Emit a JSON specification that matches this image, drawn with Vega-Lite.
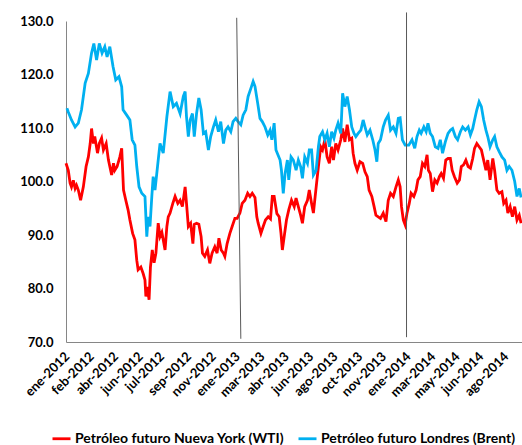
{
  "$schema": "https://vega.github.io/schema/vega-lite/v6.json",
  "width": 456,
  "height": 321,
  "autosize": "none",
  "padding": {"left": 66, "top": 21, "right": 0, "bottom": 103},
  "background": "white",
  "config": {"view": {"stroke": null}, "font": "Lato"},
  "title": {"text": "(Precio en dólares por barril)", "anchor": "start", "frame": "group", "dx": -48, "offset": 10, "baseline": "alphabetic", "font": "Lato", "fontSize": 15, "fontWeight": "bold", "color": "black"},
  "layer": [
    {
      "data": {
        "format": {"parse": {"fecha": "date:'%Y-%m-%d'"}},
        "values": [
          {"fecha": "2012-01-03", "serie": "WTI", "precio": 103.4},
          {"fecha": "2012-01-08", "serie": "WTI", "precio": 102.1},
          {"fecha": "2012-01-12", "serie": "WTI", "precio": 99.7},
          {"fecha": "2012-01-15", "serie": "WTI", "precio": 99.0},
          {"fecha": "2012-01-19", "serie": "WTI", "precio": 100.2},
          {"fecha": "2012-01-23", "serie": "WTI", "precio": 98.7},
          {"fecha": "2012-01-26", "serie": "WTI", "precio": 99.3},
          {"fecha": "2012-01-30", "serie": "WTI", "precio": 98.4},
          {"fecha": "2012-02-04", "serie": "WTI", "precio": 96.5},
          {"fecha": "2012-02-10", "serie": "WTI", "precio": 99.0},
          {"fecha": "2012-02-16", "serie": "WTI", "precio": 102.8},
          {"fecha": "2012-02-21", "serie": "WTI", "precio": 104.6},
          {"fecha": "2012-02-25", "serie": "WTI", "precio": 107.1},
          {"fecha": "2012-02-28", "serie": "WTI", "precio": 109.9},
          {"fecha": "2012-03-03", "serie": "WTI", "precio": 107.1},
          {"fecha": "2012-03-06", "serie": "WTI", "precio": 108.4},
          {"fecha": "2012-03-12", "serie": "WTI", "precio": 105.3},
          {"fecha": "2012-03-16", "serie": "WTI", "precio": 107.1},
          {"fecha": "2012-03-21", "serie": "WTI", "precio": 108.1},
          {"fecha": "2012-03-25", "serie": "WTI", "precio": 105.9},
          {"fecha": "2012-03-31", "serie": "WTI", "precio": 107.1},
          {"fecha": "2012-04-05", "serie": "WTI", "precio": 104.0},
          {"fecha": "2012-04-08", "serie": "WTI", "precio": 102.8},
          {"fecha": "2012-04-12", "serie": "WTI", "precio": 101.2},
          {"fecha": "2012-04-16", "serie": "WTI", "precio": 103.4},
          {"fecha": "2012-04-19", "serie": "WTI", "precio": 102.1},
          {"fecha": "2012-04-24", "serie": "WTI", "precio": 102.8},
          {"fecha": "2012-04-30", "serie": "WTI", "precio": 104.6},
          {"fecha": "2012-05-04", "serie": "WTI", "precio": 106.2},
          {"fecha": "2012-05-08", "serie": "WTI", "precio": 98.4},
          {"fecha": "2012-05-13", "serie": "WTI", "precio": 96.5},
          {"fecha": "2012-05-18", "serie": "WTI", "precio": 94.7},
          {"fecha": "2012-05-22", "serie": "WTI", "precio": 92.8},
          {"fecha": "2012-05-28", "serie": "WTI", "precio": 90.3},
          {"fecha": "2012-06-02", "serie": "WTI", "precio": 89.1},
          {"fecha": "2012-06-06", "serie": "WTI", "precio": 85.3},
          {"fecha": "2012-06-09", "serie": "WTI", "precio": 83.5},
          {"fecha": "2012-06-15", "serie": "WTI", "precio": 84.0},
          {"fecha": "2012-06-20", "serie": "WTI", "precio": 82.8},
          {"fecha": "2012-06-24", "serie": "WTI", "precio": 81.6},
          {"fecha": "2012-06-26", "serie": "WTI", "precio": 78.5},
          {"fecha": "2012-06-29", "serie": "WTI", "precio": 80.3},
          {"fecha": "2012-07-03", "serie": "WTI", "precio": 77.9},
          {"fecha": "2012-07-06", "serie": "WTI", "precio": 84.0},
          {"fecha": "2012-07-10", "serie": "WTI", "precio": 87.2},
          {"fecha": "2012-07-14", "serie": "WTI", "precio": 84.8},
          {"fecha": "2012-07-18", "serie": "WTI", "precio": 86.6},
          {"fecha": "2012-07-23", "serie": "WTI", "precio": 92.2},
          {"fecha": "2012-07-27", "serie": "WTI", "precio": 89.7},
          {"fecha": "2012-07-31", "serie": "WTI", "precio": 90.5},
          {"fecha": "2012-08-03", "serie": "WTI", "precio": 89.1},
          {"fecha": "2012-08-07", "serie": "WTI", "precio": 87.2},
          {"fecha": "2012-08-11", "serie": "WTI", "precio": 91.6},
          {"fecha": "2012-08-14", "serie": "WTI", "precio": 93.4},
          {"fecha": "2012-08-18", "serie": "WTI", "precio": 94.1},
          {"fecha": "2012-08-24", "serie": "WTI", "precio": 95.9},
          {"fecha": "2012-08-29", "serie": "WTI", "precio": 97.2},
          {"fecha": "2012-09-04", "serie": "WTI", "precio": 95.9},
          {"fecha": "2012-09-09", "serie": "WTI", "precio": 96.5},
          {"fecha": "2012-09-14", "serie": "WTI", "precio": 95.3},
          {"fecha": "2012-09-20", "serie": "WTI", "precio": 99.0},
          {"fecha": "2012-09-23", "serie": "WTI", "precio": 95.9},
          {"fecha": "2012-09-27", "serie": "WTI", "precio": 91.6},
          {"fecha": "2012-10-02", "serie": "WTI", "precio": 92.2},
          {"fecha": "2012-10-07", "serie": "WTI", "precio": 88.4},
          {"fecha": "2012-10-10", "serie": "WTI", "precio": 92.0},
          {"fecha": "2012-10-15", "serie": "WTI", "precio": 92.2},
          {"fecha": "2012-10-20", "serie": "WTI", "precio": 92.0},
          {"fecha": "2012-10-25", "serie": "WTI", "precio": 89.7},
          {"fecha": "2012-10-28", "serie": "WTI", "precio": 86.6},
          {"fecha": "2012-11-02", "serie": "WTI", "precio": 86.0},
          {"fecha": "2012-11-08", "serie": "WTI", "precio": 87.2},
          {"fecha": "2012-11-13", "serie": "WTI", "precio": 84.7},
          {"fecha": "2012-11-18", "serie": "WTI", "precio": 86.6},
          {"fecha": "2012-11-24", "serie": "WTI", "precio": 87.8},
          {"fecha": "2012-11-29", "serie": "WTI", "precio": 86.6},
          {"fecha": "2012-12-03", "serie": "WTI", "precio": 89.4},
          {"fecha": "2012-12-08", "serie": "WTI", "precio": 87.2},
          {"fecha": "2012-12-13", "serie": "WTI", "precio": 86.6},
          {"fecha": "2012-12-16", "serie": "WTI", "precio": 86.0},
          {"fecha": "2012-12-21", "serie": "WTI", "precio": 88.4},
          {"fecha": "2012-12-27", "serie": "WTI", "precio": 90.3},
          {"fecha": "2013-01-01", "serie": "WTI", "precio": 91.6},
          {"fecha": "2013-01-07", "serie": "WTI", "precio": 93.1},
          {"fecha": "2013-01-12", "serie": "WTI", "precio": 93.1},
          {"fecha": "2013-01-18", "serie": "WTI", "precio": 94.1},
          {"fecha": "2013-01-23", "serie": "WTI", "precio": 95.9},
          {"fecha": "2013-01-29", "serie": "WTI", "precio": 96.5},
          {"fecha": "2013-02-04", "serie": "WTI", "precio": 97.8},
          {"fecha": "2013-02-09", "serie": "WTI", "precio": 97.2},
          {"fecha": "2013-02-14", "serie": "WTI", "precio": 97.8},
          {"fecha": "2013-02-20", "serie": "WTI", "precio": 97.0},
          {"fecha": "2013-02-24", "serie": "WTI", "precio": 93.4},
          {"fecha": "2013-02-27", "serie": "WTI", "precio": 92.2},
          {"fecha": "2013-03-05", "serie": "WTI", "precio": 90.3},
          {"fecha": "2013-03-10", "serie": "WTI", "precio": 91.6},
          {"fecha": "2013-03-15", "serie": "WTI", "precio": 92.8},
          {"fecha": "2013-03-21", "serie": "WTI", "precio": 93.4},
          {"fecha": "2013-03-26", "serie": "WTI", "precio": 93.0},
          {"fecha": "2013-03-30", "serie": "WTI", "precio": 97.2},
          {"fecha": "2013-04-03", "serie": "WTI", "precio": 97.2},
          {"fecha": "2013-04-09", "serie": "WTI", "precio": 94.0},
          {"fecha": "2013-04-14", "serie": "WTI", "precio": 93.4},
          {"fecha": "2013-04-18", "serie": "WTI", "precio": 90.3},
          {"fecha": "2013-04-21", "serie": "WTI", "precio": 87.2},
          {"fecha": "2013-04-25", "serie": "WTI", "precio": 89.7},
          {"fecha": "2013-04-30", "serie": "WTI", "precio": 92.8},
          {"fecha": "2013-05-05", "serie": "WTI", "precio": 94.7},
          {"fecha": "2013-05-11", "serie": "WTI", "precio": 96.5},
          {"fecha": "2013-05-17", "serie": "WTI", "precio": 95.3},
          {"fecha": "2013-05-21", "serie": "WTI", "precio": 96.9},
          {"fecha": "2013-05-26", "serie": "WTI", "precio": 95.3},
          {"fecha": "2013-05-31", "serie": "WTI", "precio": 93.7},
          {"fecha": "2013-06-04", "serie": "WTI", "precio": 92.2},
          {"fecha": "2013-06-09", "serie": "WTI", "precio": 95.3},
          {"fecha": "2013-06-15", "serie": "WTI", "precio": 96.5},
          {"fecha": "2013-06-19", "serie": "WTI", "precio": 98.4},
          {"fecha": "2013-06-24", "serie": "WTI", "precio": 95.9},
          {"fecha": "2013-06-28", "serie": "WTI", "precio": 94.1},
          {"fecha": "2013-07-01", "serie": "WTI", "precio": 96.5},
          {"fecha": "2013-07-05", "serie": "WTI", "precio": 99.7},
          {"fecha": "2013-07-09", "serie": "WTI", "precio": 102.8},
          {"fecha": "2013-07-14", "serie": "WTI", "precio": 106.5},
          {"fecha": "2013-07-18", "serie": "WTI", "precio": 105.9},
          {"fecha": "2013-07-23", "serie": "WTI", "precio": 107.8},
          {"fecha": "2013-07-28", "serie": "WTI", "precio": 104.6},
          {"fecha": "2013-08-02", "serie": "WTI", "precio": 103.4},
          {"fecha": "2013-08-07", "serie": "WTI", "precio": 106.5},
          {"fecha": "2013-08-11", "serie": "WTI", "precio": 104.0},
          {"fecha": "2013-08-16", "serie": "WTI", "precio": 107.1},
          {"fecha": "2013-08-21", "serie": "WTI", "precio": 105.9},
          {"fecha": "2013-08-27", "serie": "WTI", "precio": 107.8},
          {"fecha": "2013-08-31", "serie": "WTI", "precio": 109.9},
          {"fecha": "2013-09-05", "serie": "WTI", "precio": 107.4},
          {"fecha": "2013-09-10", "serie": "WTI", "precio": 110.6},
          {"fecha": "2013-09-15", "serie": "WTI", "precio": 107.8},
          {"fecha": "2013-09-20", "serie": "WTI", "precio": 108.1},
          {"fecha": "2013-09-23", "serie": "WTI", "precio": 105.3},
          {"fecha": "2013-09-27", "serie": "WTI", "precio": 103.4},
          {"fecha": "2013-10-02", "serie": "WTI", "precio": 102.1},
          {"fecha": "2013-10-08", "serie": "WTI", "precio": 103.7},
          {"fecha": "2013-10-14", "serie": "WTI", "precio": 103.4},
          {"fecha": "2013-10-19", "serie": "WTI", "precio": 101.8},
          {"fecha": "2013-10-24", "serie": "WTI", "precio": 100.9},
          {"fecha": "2013-10-28", "serie": "WTI", "precio": 98.4},
          {"fecha": "2013-11-03", "serie": "WTI", "precio": 97.2},
          {"fecha": "2013-11-08", "serie": "WTI", "precio": 95.3},
          {"fecha": "2013-11-12", "serie": "WTI", "precio": 93.7},
          {"fecha": "2013-11-17", "serie": "WTI", "precio": 93.4},
          {"fecha": "2013-11-22", "serie": "WTI", "precio": 93.1},
          {"fecha": "2013-11-28", "serie": "WTI", "precio": 94.1},
          {"fecha": "2013-12-04", "serie": "WTI", "precio": 92.5},
          {"fecha": "2013-12-09", "serie": "WTI", "precio": 96.5},
          {"fecha": "2013-12-14", "serie": "WTI", "precio": 97.8},
          {"fecha": "2013-12-20", "serie": "WTI", "precio": 97.2},
          {"fecha": "2013-12-26", "serie": "WTI", "precio": 99.0},
          {"fecha": "2013-12-31", "serie": "WTI", "precio": 100.3},
          {"fecha": "2014-01-04", "serie": "WTI", "precio": 99.0},
          {"fecha": "2014-01-07", "serie": "WTI", "precio": 95.3},
          {"fecha": "2014-01-11", "serie": "WTI", "precio": 92.8},
          {"fecha": "2014-01-15", "serie": "WTI", "precio": 91.9},
          {"fecha": "2014-01-19", "serie": "WTI", "precio": 94.1},
          {"fecha": "2014-01-24", "serie": "WTI", "precio": 95.9},
          {"fecha": "2014-01-28", "serie": "WTI", "precio": 97.8},
          {"fecha": "2014-02-03", "serie": "WTI", "precio": 97.2},
          {"fecha": "2014-02-08", "serie": "WTI", "precio": 98.4},
          {"fecha": "2014-02-12", "serie": "WTI", "precio": 100.3},
          {"fecha": "2014-02-17", "serie": "WTI", "precio": 100.9},
          {"fecha": "2014-02-22", "serie": "WTI", "precio": 103.4},
          {"fecha": "2014-02-27", "serie": "WTI", "precio": 102.8},
          {"fecha": "2014-03-04", "serie": "WTI", "precio": 105.0},
          {"fecha": "2014-03-07", "serie": "WTI", "precio": 102.1},
          {"fecha": "2014-03-11", "serie": "WTI", "precio": 101.5},
          {"fecha": "2014-03-16", "serie": "WTI", "precio": 98.1},
          {"fecha": "2014-03-21", "serie": "WTI", "precio": 100.3},
          {"fecha": "2014-03-26", "serie": "WTI", "precio": 99.7},
          {"fecha": "2014-03-31", "serie": "WTI", "precio": 100.9},
          {"fecha": "2014-04-04", "serie": "WTI", "precio": 101.5},
          {"fecha": "2014-04-09", "serie": "WTI", "precio": 100.6},
          {"fecha": "2014-04-14", "serie": "WTI", "precio": 104.0},
          {"fecha": "2014-04-19", "serie": "WTI", "precio": 104.3},
          {"fecha": "2014-04-24", "serie": "WTI", "precio": 104.3},
          {"fecha": "2014-04-28", "serie": "WTI", "precio": 102.1},
          {"fecha": "2014-05-03", "serie": "WTI", "precio": 100.9},
          {"fecha": "2014-05-09", "serie": "WTI", "precio": 99.7},
          {"fecha": "2014-05-14", "serie": "WTI", "precio": 100.3},
          {"fecha": "2014-05-18", "serie": "WTI", "precio": 102.8},
          {"fecha": "2014-05-23", "serie": "WTI", "precio": 103.1},
          {"fecha": "2014-05-28", "serie": "WTI", "precio": 104.0},
          {"fecha": "2014-06-02", "serie": "WTI", "precio": 102.8},
          {"fecha": "2014-06-07", "serie": "WTI", "precio": 102.5},
          {"fecha": "2014-06-12", "serie": "WTI", "precio": 104.3},
          {"fecha": "2014-06-16", "serie": "WTI", "precio": 106.2},
          {"fecha": "2014-06-21", "serie": "WTI", "precio": 107.1},
          {"fecha": "2014-06-26", "serie": "WTI", "precio": 106.5},
          {"fecha": "2014-07-01", "serie": "WTI", "precio": 105.9},
          {"fecha": "2014-07-06", "serie": "WTI", "precio": 104.0},
          {"fecha": "2014-07-11", "serie": "WTI", "precio": 102.1},
          {"fecha": "2014-07-15", "serie": "WTI", "precio": 104.0},
          {"fecha": "2014-07-20", "serie": "WTI", "precio": 100.3},
          {"fecha": "2014-07-26", "serie": "WTI", "precio": 104.3},
          {"fecha": "2014-07-30", "serie": "WTI", "precio": 102.1},
          {"fecha": "2014-08-04", "serie": "WTI", "precio": 98.4},
          {"fecha": "2014-08-09", "serie": "WTI", "precio": 97.8},
          {"fecha": "2014-08-15", "serie": "WTI", "precio": 98.1},
          {"fecha": "2014-08-19", "serie": "WTI", "precio": 95.9},
          {"fecha": "2014-08-24", "serie": "WTI", "precio": 96.5},
          {"fecha": "2014-08-28", "serie": "WTI", "precio": 94.1},
          {"fecha": "2014-09-02", "serie": "WTI", "precio": 95.3},
          {"fecha": "2014-09-07", "serie": "WTI", "precio": 93.4},
          {"fecha": "2014-09-12", "serie": "WTI", "precio": 95.3},
          {"fecha": "2014-09-17", "serie": "WTI", "precio": 92.8},
          {"fecha": "2014-09-22", "serie": "WTI", "precio": 93.7},
          {"fecha": "2014-09-26", "serie": "WTI", "precio": 92.2},
          {"fecha": "2012-01-05", "serie": "Brent", "precio": 113.7},
          {"fecha": "2012-01-08", "serie": "Brent", "precio": 113.0},
          {"fecha": "2012-01-15", "serie": "Brent", "precio": 111.5},
          {"fecha": "2012-01-23", "serie": "Brent", "precio": 110.2},
          {"fecha": "2012-01-30", "serie": "Brent", "precio": 110.9},
          {"fecha": "2012-02-06", "serie": "Brent", "precio": 113.4},
          {"fecha": "2012-02-14", "serie": "Brent", "precio": 118.4},
          {"fecha": "2012-02-21", "serie": "Brent", "precio": 120.2},
          {"fecha": "2012-02-28", "serie": "Brent", "precio": 124.0},
          {"fecha": "2012-03-04", "serie": "Brent", "precio": 125.8},
          {"fecha": "2012-03-10", "serie": "Brent", "precio": 122.7},
          {"fecha": "2012-03-16", "serie": "Brent", "precio": 125.8},
          {"fecha": "2012-03-22", "serie": "Brent", "precio": 124.0},
          {"fecha": "2012-03-28", "serie": "Brent", "precio": 125.2},
          {"fecha": "2012-04-02", "serie": "Brent", "precio": 123.3},
          {"fecha": "2012-04-08", "serie": "Brent", "precio": 125.2},
          {"fecha": "2012-04-15", "serie": "Brent", "precio": 121.5},
          {"fecha": "2012-04-21", "serie": "Brent", "precio": 119.0},
          {"fecha": "2012-04-28", "serie": "Brent", "precio": 119.6},
          {"fecha": "2012-05-04", "serie": "Brent", "precio": 117.7},
          {"fecha": "2012-05-07", "serie": "Brent", "precio": 113.4},
          {"fecha": "2012-05-15", "serie": "Brent", "precio": 112.4},
          {"fecha": "2012-05-22", "serie": "Brent", "precio": 111.5},
          {"fecha": "2012-05-27", "serie": "Brent", "precio": 107.8},
          {"fecha": "2012-06-02", "serie": "Brent", "precio": 106.8},
          {"fecha": "2012-06-06", "serie": "Brent", "precio": 102.8},
          {"fecha": "2012-06-11", "serie": "Brent", "precio": 99.0},
          {"fecha": "2012-06-17", "serie": "Brent", "precio": 97.8},
          {"fecha": "2012-06-24", "serie": "Brent", "precio": 97.2},
          {"fecha": "2012-06-28", "serie": "Brent", "precio": 89.7},
          {"fecha": "2012-07-01", "serie": "Brent", "precio": 93.4},
          {"fecha": "2012-07-05", "serie": "Brent", "precio": 91.6},
          {"fecha": "2012-07-09", "serie": "Brent", "precio": 97.2},
          {"fecha": "2012-07-12", "serie": "Brent", "precio": 100.9},
          {"fecha": "2012-07-16", "serie": "Brent", "precio": 98.4},
          {"fecha": "2012-07-23", "serie": "Brent", "precio": 104.0},
          {"fecha": "2012-07-27", "serie": "Brent", "precio": 107.1},
          {"fecha": "2012-08-03", "serie": "Brent", "precio": 105.3},
          {"fecha": "2012-08-11", "serie": "Brent", "precio": 112.1},
          {"fecha": "2012-08-18", "serie": "Brent", "precio": 116.8},
          {"fecha": "2012-08-25", "serie": "Brent", "precio": 114.0},
          {"fecha": "2012-09-01", "serie": "Brent", "precio": 114.6},
          {"fecha": "2012-09-09", "serie": "Brent", "precio": 112.7},
          {"fecha": "2012-09-16", "serie": "Brent", "precio": 115.9},
          {"fecha": "2012-09-20", "serie": "Brent", "precio": 116.8},
          {"fecha": "2012-09-23", "serie": "Brent", "precio": 112.1},
          {"fecha": "2012-09-27", "serie": "Brent", "precio": 108.4},
          {"fecha": "2012-10-01", "serie": "Brent", "precio": 111.5},
          {"fecha": "2012-10-06", "serie": "Brent", "precio": 112.7},
          {"fecha": "2012-10-10", "serie": "Brent", "precio": 108.4},
          {"fecha": "2012-10-15", "serie": "Brent", "precio": 112.7},
          {"fecha": "2012-10-20", "serie": "Brent", "precio": 115.6},
          {"fecha": "2012-10-25", "serie": "Brent", "precio": 113.4},
          {"fecha": "2012-10-30", "serie": "Brent", "precio": 109.0},
          {"fecha": "2012-11-04", "serie": "Brent", "precio": 109.3},
          {"fecha": "2012-11-10", "serie": "Brent", "precio": 105.9},
          {"fecha": "2012-11-15", "serie": "Brent", "precio": 108.4},
          {"fecha": "2012-11-21", "serie": "Brent", "precio": 110.2},
          {"fecha": "2012-11-26", "serie": "Brent", "precio": 111.5},
          {"fecha": "2012-12-02", "serie": "Brent", "precio": 109.3},
          {"fecha": "2012-12-07", "serie": "Brent", "precio": 111.2},
          {"fecha": "2012-12-13", "serie": "Brent", "precio": 107.1},
          {"fecha": "2012-12-18", "serie": "Brent", "precio": 109.6},
          {"fecha": "2012-12-23", "serie": "Brent", "precio": 110.2},
          {"fecha": "2012-12-29", "serie": "Brent", "precio": 109.3},
          {"fecha": "2013-01-03", "serie": "Brent", "precio": 111.2},
          {"fecha": "2013-01-09", "serie": "Brent", "precio": 111.8},
          {"fecha": "2013-01-14", "serie": "Brent", "precio": 111.2},
          {"fecha": "2013-01-20", "serie": "Brent", "precio": 110.6},
          {"fecha": "2013-01-25", "serie": "Brent", "precio": 112.4},
          {"fecha": "2013-01-31", "serie": "Brent", "precio": 113.4},
          {"fecha": "2013-02-05", "serie": "Brent", "precio": 115.9},
          {"fecha": "2013-02-11", "serie": "Brent", "precio": 117.4},
          {"fecha": "2013-02-16", "serie": "Brent", "precio": 118.7},
          {"fecha": "2013-02-20", "serie": "Brent", "precio": 117.8},
          {"fecha": "2013-02-26", "serie": "Brent", "precio": 114.6},
          {"fecha": "2013-03-03", "serie": "Brent", "precio": 111.8},
          {"fecha": "2013-03-08", "serie": "Brent", "precio": 111.2},
          {"fecha": "2013-03-14", "serie": "Brent", "precio": 110.2},
          {"fecha": "2013-03-20", "serie": "Brent", "precio": 108.7},
          {"fecha": "2013-03-25", "serie": "Brent", "precio": 109.6},
          {"fecha": "2013-03-29", "serie": "Brent", "precio": 107.8},
          {"fecha": "2013-04-03", "serie": "Brent", "precio": 110.9},
          {"fecha": "2013-04-07", "serie": "Brent", "precio": 105.9},
          {"fecha": "2013-04-16", "serie": "Brent", "precio": 104.0},
          {"fecha": "2013-04-19", "serie": "Brent", "precio": 102.1},
          {"fecha": "2013-04-23", "serie": "Brent", "precio": 97.8},
          {"fecha": "2013-04-27", "serie": "Brent", "precio": 101.5},
          {"fecha": "2013-05-02", "serie": "Brent", "precio": 104.0},
          {"fecha": "2013-05-05", "serie": "Brent", "precio": 100.3},
          {"fecha": "2013-05-10", "serie": "Brent", "precio": 104.6},
          {"fecha": "2013-05-15", "serie": "Brent", "precio": 104.0},
          {"fecha": "2013-05-19", "serie": "Brent", "precio": 102.8},
          {"fecha": "2013-05-21", "serie": "Brent", "precio": 102.1},
          {"fecha": "2013-05-26", "serie": "Brent", "precio": 104.0},
          {"fecha": "2013-05-31", "serie": "Brent", "precio": 102.8},
          {"fecha": "2013-06-04", "serie": "Brent", "precio": 100.6},
          {"fecha": "2013-06-09", "serie": "Brent", "precio": 104.6},
          {"fecha": "2013-06-15", "serie": "Brent", "precio": 103.4},
          {"fecha": "2013-06-19", "serie": "Brent", "precio": 105.9},
          {"fecha": "2013-06-24", "serie": "Brent", "precio": 105.9},
          {"fecha": "2013-06-28", "serie": "Brent", "precio": 101.2},
          {"fecha": "2013-07-04", "serie": "Brent", "precio": 102.1},
          {"fecha": "2013-07-09", "serie": "Brent", "precio": 106.5},
          {"fecha": "2013-07-12", "serie": "Brent", "precio": 108.4},
          {"fecha": "2013-07-18", "serie": "Brent", "precio": 109.3},
          {"fecha": "2013-07-23", "serie": "Brent", "precio": 107.8},
          {"fecha": "2013-07-28", "serie": "Brent", "precio": 109.0},
          {"fecha": "2013-08-02", "serie": "Brent", "precio": 106.5},
          {"fecha": "2013-08-07", "serie": "Brent", "precio": 109.3},
          {"fecha": "2013-08-12", "serie": "Brent", "precio": 108.1},
          {"fecha": "2013-08-16", "serie": "Brent", "precio": 109.6},
          {"fecha": "2013-08-21", "serie": "Brent", "precio": 110.9},
          {"fecha": "2013-08-27", "serie": "Brent", "precio": 109.0},
          {"fecha": "2013-08-31", "serie": "Brent", "precio": 116.5},
          {"fecha": "2013-09-05", "serie": "Brent", "precio": 114.0},
          {"fecha": "2013-09-10", "serie": "Brent", "precio": 115.9},
          {"fecha": "2013-09-15", "serie": "Brent", "precio": 113.4},
          {"fecha": "2013-09-20", "serie": "Brent", "precio": 110.2},
          {"fecha": "2013-09-25", "serie": "Brent", "precio": 109.0},
          {"fecha": "2013-09-29", "serie": "Brent", "precio": 108.4},
          {"fecha": "2013-10-04", "serie": "Brent", "precio": 109.0},
          {"fecha": "2013-10-10", "serie": "Brent", "precio": 109.6},
          {"fecha": "2013-10-15", "serie": "Brent", "precio": 111.5},
          {"fecha": "2013-10-19", "serie": "Brent", "precio": 110.2},
          {"fecha": "2013-10-24", "serie": "Brent", "precio": 108.7},
          {"fecha": "2013-10-30", "serie": "Brent", "precio": 109.6},
          {"fecha": "2013-11-05", "serie": "Brent", "precio": 107.8},
          {"fecha": "2013-11-10", "serie": "Brent", "precio": 105.9},
          {"fecha": "2013-11-14", "serie": "Brent", "precio": 103.7},
          {"fecha": "2013-11-17", "serie": "Brent", "precio": 107.1},
          {"fecha": "2013-11-22", "serie": "Brent", "precio": 107.8},
          {"fecha": "2013-11-28", "serie": "Brent", "precio": 110.2},
          {"fecha": "2013-12-03", "serie": "Brent", "precio": 111.5},
          {"fecha": "2013-12-09", "serie": "Brent", "precio": 112.4},
          {"fecha": "2013-12-14", "serie": "Brent", "precio": 109.6},
          {"fecha": "2013-12-20", "serie": "Brent", "precio": 110.2},
          {"fecha": "2013-12-26", "serie": "Brent", "precio": 109.0},
          {"fecha": "2013-12-31", "serie": "Brent", "precio": 111.8},
          {"fecha": "2014-01-04", "serie": "Brent", "precio": 111.9},
          {"fecha": "2014-01-09", "serie": "Brent", "precio": 107.8},
          {"fecha": "2014-01-15", "serie": "Brent", "precio": 106.8},
          {"fecha": "2014-01-23", "serie": "Brent", "precio": 106.8},
          {"fecha": "2014-01-30", "serie": "Brent", "precio": 107.8},
          {"fecha": "2014-02-05", "serie": "Brent", "precio": 106.2},
          {"fecha": "2014-02-10", "serie": "Brent", "precio": 108.4},
          {"fecha": "2014-02-15", "serie": "Brent", "precio": 109.6},
          {"fecha": "2014-02-19", "serie": "Brent", "precio": 109.0},
          {"fecha": "2014-02-25", "serie": "Brent", "precio": 110.2},
          {"fecha": "2014-03-02", "serie": "Brent", "precio": 109.3},
          {"fecha": "2014-03-06", "serie": "Brent", "precio": 110.9},
          {"fecha": "2014-03-11", "serie": "Brent", "precio": 109.0},
          {"fecha": "2014-03-16", "serie": "Brent", "precio": 108.4},
          {"fecha": "2014-03-22", "serie": "Brent", "precio": 106.5},
          {"fecha": "2014-03-28", "serie": "Brent", "precio": 106.2},
          {"fecha": "2014-04-02", "serie": "Brent", "precio": 107.8},
          {"fecha": "2014-04-07", "serie": "Brent", "precio": 105.3},
          {"fecha": "2014-04-13", "serie": "Brent", "precio": 107.4},
          {"fecha": "2014-04-19", "serie": "Brent", "precio": 109.0},
          {"fecha": "2014-04-24", "serie": "Brent", "precio": 109.6},
          {"fecha": "2014-04-29", "serie": "Brent", "precio": 109.9},
          {"fecha": "2014-05-05", "serie": "Brent", "precio": 108.4},
          {"fecha": "2014-05-10", "serie": "Brent", "precio": 107.8},
          {"fecha": "2014-05-16", "serie": "Brent", "precio": 109.3},
          {"fecha": "2014-05-21", "serie": "Brent", "precio": 110.2},
          {"fecha": "2014-05-27", "serie": "Brent", "precio": 109.6},
          {"fecha": "2014-06-02", "serie": "Brent", "precio": 110.2},
          {"fecha": "2014-06-07", "serie": "Brent", "precio": 108.7},
          {"fecha": "2014-06-12", "serie": "Brent", "precio": 109.9},
          {"fecha": "2014-06-16", "serie": "Brent", "precio": 111.5},
          {"fecha": "2014-06-21", "serie": "Brent", "precio": 113.4},
          {"fecha": "2014-06-26", "serie": "Brent", "precio": 114.9},
          {"fecha": "2014-07-01", "serie": "Brent", "precio": 114.0},
          {"fecha": "2014-07-06", "serie": "Brent", "precio": 111.5},
          {"fecha": "2014-07-11", "serie": "Brent", "precio": 109.6},
          {"fecha": "2014-07-15", "serie": "Brent", "precio": 108.4},
          {"fecha": "2014-07-20", "serie": "Brent", "precio": 106.5},
          {"fecha": "2014-07-26", "serie": "Brent", "precio": 107.8},
          {"fecha": "2014-07-30", "serie": "Brent", "precio": 108.4},
          {"fecha": "2014-08-04", "serie": "Brent", "precio": 106.5},
          {"fecha": "2014-08-09", "serie": "Brent", "precio": 105.6},
          {"fecha": "2014-08-15", "serie": "Brent", "precio": 104.6},
          {"fecha": "2014-08-21", "serie": "Brent", "precio": 104.0},
          {"fecha": "2014-08-26", "serie": "Brent", "precio": 102.1},
          {"fecha": "2014-08-31", "serie": "Brent", "precio": 102.8},
          {"fecha": "2014-09-06", "serie": "Brent", "precio": 102.1},
          {"fecha": "2014-09-12", "serie": "Brent", "precio": 100.0},
          {"fecha": "2014-09-17", "serie": "Brent", "precio": 97.2},
          {"fecha": "2014-09-22", "serie": "Brent", "precio": 98.7},
          {"fecha": "2014-09-26", "serie": "Brent", "precio": 97.0}
        ]
      },
      "mark": {"type": "line", "strokeWidth": 2.8},
      "encoding": {
        "x": {
          "field": "fecha", "type": "temporal",
          "scale": {"domain": [{"year": 2012, "month": 1, "date": 3}, {"year": 2014, "month": 9, "date": 28}]},
          "axis": {
            "title": null, "grid": false, "ticks": false, "domainColor": "#868686", "tickCount": 40,
            "values": [
              {"year": 2012, "month": 1, "date": 5}, {"year": 2012, "month": 2, "date": 28},
              {"year": 2012, "month": 4, "date": 21}, {"year": 2012, "month": 6, "date": 14},
              {"year": 2012, "month": 7, "date": 31}, {"year": 2012, "month": 9, "date": 28},
              {"year": 2012, "month": 11, "date": 21}, {"year": 2013, "month": 1, "date": 13},
              {"year": 2013, "month": 3, "date": 8}, {"year": 2013, "month": 4, "date": 30},
              {"year": 2013, "month": 6, "date": 23}, {"year": 2013, "month": 8, "date": 15},
              {"year": 2013, "month": 10, "date": 8}, {"year": 2013, "month": 11, "date": 29},
              {"year": 2014, "month": 1, "date": 22}, {"year": 2014, "month": 3, "date": 17},
              {"year": 2014, "month": 5, "date": 9}, {"year": 2014, "month": 6, "date": 30},
              {"year": 2014, "month": 8, "date": 24}
            ],
            "labelExpr": "['ene','feb','mar','abr','may','jun','jul','ago','sep','oct','nov','dic'][month(datum.value)] + '-' + year(datum.value)",
            "labelAngle": -45, "labelAlign": "right", "labelBaseline": "middle", "labelPadding": 12,
            "labelOverlap": false, "labelBound": false, "labelFlush": false,
            "labelFont": "Lato", "labelFontSize": 13, "labelFontWeight": "bold", "labelColor": "black"
          }
        },
        "y": {
          "field": "precio", "type": "quantitative",
          "scale": {"domain": [70, 130], "nice": false, "zero": false},
          "axis": {
            "title": null, "grid": false, "ticks": false, "domainColor": "#868686",
            "values": [70, 80, 90, 100, 110, 120, 130], "format": ".1f",
            "labelFont": "Lato", "labelFontSize": 13, "labelFontWeight": "bold", "labelColor": "black", "labelPadding": 13
          }
        },
        "color": {
          "field": "serie", "type": "nominal",
          "scale": {"domain": ["WTI", "Brent"], "range": ["#FF0000", "#00B0F0"]},
          "legend": {
            "title": null, "orient": "none", "legendX": -15, "legendY": 407, "direction": "horizontal",
            "symbolType": "stroke", "symbolSize": 324, "symbolStrokeWidth": 2.8,
            "labelExpr": "datum.label == 'WTI' ? 'Petróleo futuro Nueva York (WTI)' : 'Petróleo futuro Londres (Brent)'",
            "labelFont": "Lato", "labelFontSize": 14, "labelFontWeight": "bold", "labelColor": "black",
            "labelOffset": 3, "columnPadding": 7, "labelLimit": 300
          }
        }
      }
    },
    {
      "data": {
        "format": {"parse": {"fecha": "date:'%Y-%m-%d'", "fecha2": "date:'%Y-%m-%d'"}},
        "values": [
          {"fecha": "2013-01-11", "fecha2": "2013-01-20", "tope": 130.6, "base": 70.6},
          {"fecha": "2014-01-18", "fecha2": "2014-01-18", "tope": 131.6, "base": 70.9}
        ]
      },
      "mark": {"type": "rule", "color": "#595959", "strokeWidth": 1},
      "encoding": {
        "x": {"field": "fecha", "type": "temporal"},
        "x2": {"field": "fecha2"},
        "y": {"field": "tope", "type": "quantitative"},
        "y2": {"field": "base"}
      }
    }
  ]
}
